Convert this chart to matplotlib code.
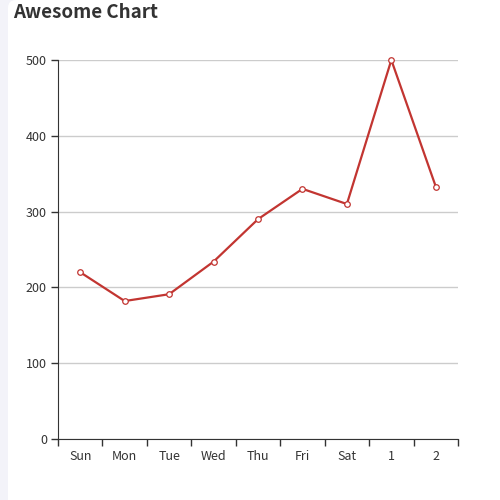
import matplotlib
matplotlib.use("Agg")
import matplotlib.pyplot as plt
from matplotlib.patches import FancyBboxPatch
import numpy as np

# --- данные ---
categories = ["Sun", "Mon", "Tue", "Wed", "Thu", "Fri", "Sat", "1", "2"]
values = [220, 182, 191, 234, 290, 330, 310, 500, 333]
y_ticks = [0, 100, 200, 300, 400, 500]

plt.rcParams["font.family"] = ["Noto Sans CJK SC", "DejaVu Sans"]

fig = plt.figure(figsize=(5, 5), dpi=100)
fig.patch.set_facecolor("#f3f3f9")

# белая карточка под графиком
card = FancyBboxPatch((0.016, -0.02), 1.0, 1.02, boxstyle="round,pad=0,rounding_size=0.016",
                      transform=fig.transFigure, facecolor="white", edgecolor="none", zorder=-10)
fig.patches.append(card)

ax = fig.add_axes([0.116, 0.122, 0.8, 0.758])
ax.set_facecolor("none")
ax.set_zorder(1)

x = np.arange(len(categories))
ax.plot(x, values, color="#c23531", linewidth=1.6, marker="o", markersize=4,
        markerfacecolor="white", markeredgecolor="#c23531", markeredgewidth=0.9,
        zorder=3, clip_on=False)

ax.set_xlim(-0.5, len(categories) - 0.5)
ax.set_ylim(0, 500)
ax.set_yticks(y_ticks)
ax.set_xticks(x)
ax.set_xticklabels(categories)
ax.set_xticks(np.arange(len(categories) + 1) - 0.5, minor=True)
ax.tick_params(axis="x", which="major", length=0, pad=8, labelsize=9, labelcolor="#333333")
ax.tick_params(axis="x", which="minor", length=5, width=1, color="#333333", direction="out")
ax.tick_params(axis="y", length=5, width=1, color="#333333", labelsize=9, labelcolor="#333333", pad=3)

ax.grid(axis="y", color="#cccccc", linewidth=1)
ax.set_axisbelow(True)
for side in ["top", "right"]:
    ax.spines[side].set_visible(False)
ax.spines["left"].set_color("#333333")
ax.spines["bottom"].set_color("#333333")

fig.text(0.026, 0.975, "Awesome Chart", fontsize=13.5, fontweight="bold", color="#333333",
         ha="left", va="center", zorder=5)

fig.savefig("out.png", dpi=100)
